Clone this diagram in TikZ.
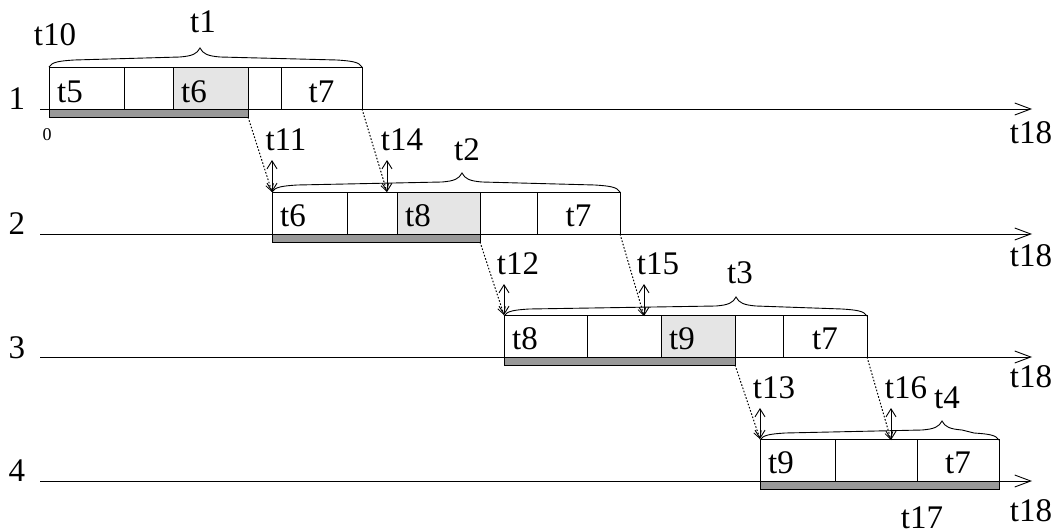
\documentclass[tikz,border=0pt]{standalone}
\usepackage{fontspec}
\setmainfont{Liberation Serif}
\usetikzlibrary{arrows.meta}
\tikzset{
  cell/.style={draw, line width=0.9pt, minimum height=42pt, inner sep=0pt, outer sep=0pt, anchor=south west},
  shaded/.style={cell, fill=gray!20},
  bar/.style={draw, line width=0.5pt, fill=gray!80, minimum height=8pt, inner sep=0pt, outer sep=0pt, anchor=north west},
  txt/.style={inner sep=0pt, font=\fontsize{33}{36}\selectfont},
  small/.style={inner sep=0pt, font=\fontsize{18}{20}\selectfont},
  axis/.style={line width=0.9pt, -{Straight Barb[length=16pt,width=12pt,line width=0.9pt]}},
  move/.style={dash pattern=on 1.6pt off 1.8pt, line width=1pt, -{Straight Barb[length=7pt,width=8pt,line width=0.8pt]}},
  gap/.style={line width=0.9pt, {Straight Barb[length=8pt,width=10pt,line width=0.9pt]}-{Straight Barb[length=8pt,width=10pt,line width=0.9pt]}},
  bracepath/.style={line width=0.9pt}
}
\newcommand{\tbrace}[4]{% xa, xb, xp, y0
  \draw[bracepath] (#1,#4) .. controls ({#1+3},{#4-5}) and ({#1+10},{#4-6}) .. ({#1+25},{#4-7})
    -- ({#3-20},{#4-10}) .. controls ({#3-8},{#4-11}) and ({#3-3},{#4-13}) .. (#3,{#4-19})
    .. controls ({#3+3},{#4-13}) and ({#3+8},{#4-11}) .. ({#3+20},{#4-10})
    -- ({#2-25},{#4-7}) .. controls ({#2-10},{#4-6}) and ({#2-3},{#4-5}) .. (#2,#4);}
\begin{document}
\begin{tikzpicture}[x=1pt,y=-1pt]
\useasboundingbox (0,0) rectangle (1056,530);
% axes
\foreach \r/\y in {1/109,2/234,3/357,4/481}{
  \coordinate (as\r) at (40,\y);
  \coordinate (ae\r) at (1032,\y);
  \draw[axis] (as\r) -- (ae\r);
}
% row 1
\node[bar, minimum width=199pt] (bar1) at (49,109) {};
\node[cell, minimum width=75pt] (a1) at (49,109) {};
\node[cell, minimum width=49pt] (a2) at (124,109) {};
\node[shaded, minimum width=75pt] (a3) at (173,109) {};
\node[cell, minimum width=33pt] (a4) at (248,109) {};
\node[cell, minimum width=81pt] (a5) at (281,109) {};
\node[txt, anchor=base west] (ta1) at (57,102) {t5};
\node[txt, anchor=base west] (ta3) at (181,102) {t6};
\node[txt, anchor=base] (ta5) at (321.5,102) {t7};
% row 2
\node[bar, minimum width=208pt] (bar2) at (272,234) {};
\node[cell, minimum width=75pt] (b1) at (272,234) {};
\node[cell, minimum width=50pt] (b2) at (347,234) {};
\node[shaded, minimum width=83pt] (b3) at (397,234) {};
\node[cell, minimum width=57pt] (b4) at (480,234) {};
\node[cell, minimum width=83pt] (b5) at (537,234) {};
\node[txt, anchor=base west] (tb1) at (280,226) {t6};
\node[txt, anchor=base west] (tb3) at (405,226) {t8};
\node[txt, anchor=base] (tb5) at (578.5,226) {t7};
% row 3
\node[bar, minimum width=231pt] (bar3) at (504,357) {};
\node[cell, minimum width=83pt] (c1) at (504,357) {};
\node[cell, minimum width=74pt] (c2) at (587,357) {};
\node[shaded, minimum width=74pt] (c3) at (661,357) {};
\node[cell, minimum width=48pt] (c4) at (735,357) {};
\node[cell, minimum width=84pt] (c5) at (783,357) {};
\node[txt, anchor=base west] (tc1) at (512,349) {t8};
\node[txt, anchor=base west] (tc3) at (669,349) {t9};
\node[txt, anchor=base] (tc5) at (825,349) {t7};
% row 4
\node[bar, minimum width=239pt] (bar4) at (760,481) {};
\node[cell, minimum width=75pt] (d1) at (760,481) {};
\node[cell, minimum width=82pt] (d2) at (835,481) {};
\node[cell, minimum width=82pt] (d3) at (917,481) {};
\node[txt, anchor=base west] (td1) at (768,473) {t9};
\node[txt, anchor=base] (td3) at (958,473) {t7};
% braces
\tbrace{49}{362}{200}{67}
\tbrace{272}{620}{462}{192}
\tbrace{504}{867}{736}{316}
\tbrace{760}{999}{942}{440}
% landing points
\coordinate (p14) at (387,192);
\coordinate (p15) at (644,316);
\coordinate (p16) at (891,440);
\coordinate (q11) at (272,160);
\coordinate (q14) at (387,160);
\coordinate (q12) at (504,284);
\coordinate (q15) at (644,284);
\coordinate (q13) at (760,408);
\coordinate (q16) at (891,408);
% dotted moves
\draw[move] (bar1.south east) -- (b1.north west);
\draw[move] (a5.south east) -- (p14);
\draw[move] (bar2.south east) -- (c1.north west);
\draw[move] (b5.south east) -- (p15);
\draw[move] (bar3.south east) -- (d1.north west);
\draw[move] (c5.south east) -- (p16);
% gaps
\draw[gap] (q11) -- (b1.north west);
\draw[gap] (q14) -- (p14);
\draw[gap] (q12) -- (c1.north west);
\draw[gap] (q15) -- (p15);
\draw[gap] (q13) -- (d1.north west);
\draw[gap] (q16) -- (p16);
% labels
\node[txt] (n1) at (17,99) {1};
\node[txt] (n2) at (17,224) {2};
\node[txt] (n3) at (17,348) {3};
\node[txt] (n4) at (17,471) {4};
\node[small] (zero) at (47,135) {0};
\node[txt] (t10) at (55,35) {t10};
\node[txt] (t1) at (203,22) {t1};
\node[txt] (t2) at (467,150) {t2};
\node[txt] (t3) at (740,273) {t3};
\node[txt] (t4) at (947,398) {t4};
\node[txt] (t11) at (286,140) {t11};
\node[txt] (t14) at (402,140) {t14};
\node[txt] (t12) at (518,264) {t12};
\node[txt] (t15) at (658,264) {t15};
\node[txt] (t13) at (774,388) {t13};
\node[txt] (t16) at (906,388) {t16};
\node[txt] (t17) at (922,518) {t17};
\node[txt] (t18a) at (1031,133) {t18};
\node[txt] (t18b) at (1031,256) {t18};
\node[txt] (t18c) at (1031,377) {t18};
\node[txt] (t18d) at (1031,511) {t18};
\end{tikzpicture}
\end{document}
